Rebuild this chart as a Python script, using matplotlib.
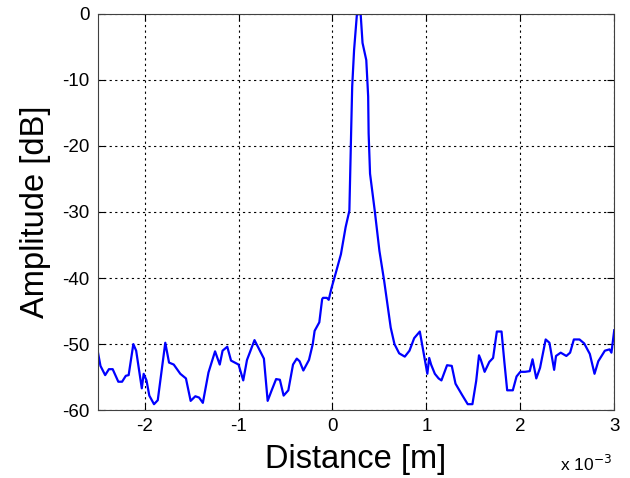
import matplotlib
matplotlib.use("Agg")
import matplotlib.pyplot as plt

# distance in units of 1e-3 m
distance_mm = [
    -2.50, -2.47, -2.42, -2.38, -2.34, -2.28, -2.24, -2.20, -2.17, -2.12,
    -2.09, -2.03, -2.01, -1.98, -1.95, -1.90, -1.86, -1.83, -1.78, -1.74,
    -1.69, -1.62, -1.56, -1.51, -1.46, -1.42, -1.38, -1.32, -1.25, -1.20,
    -1.17, -1.12, -1.08, -1.00, -0.95, -0.91, -0.83, -0.73, -0.69, -0.65,
    -0.60, -0.56, -0.52, -0.47, -0.42, -0.38, -0.35, -0.31, -0.25, -0.21,
    -0.19, -0.14, -0.11, -0.10, -0.06, -0.04, -0.01, 0.03, 0.09, 0.14,
    0.18, 0.19, 0.20, 0.21, 0.23, 0.26, 0.30, 0.32, 0.36, 0.38,
    0.385, 0.40, 0.45, 0.50, 0.55, 0.58, 0.62, 0.66, 0.71, 0.77,
    0.82, 0.87, 0.93, 0.96, 1.01, 1.03, 1.05, 1.09, 1.13, 1.16,
    1.22, 1.27, 1.31, 1.38, 1.44, 1.49, 1.53, 1.56, 1.58, 1.62,
    1.67, 1.71, 1.75, 1.80, 1.83, 1.86, 1.92, 1.96, 2.00, 2.05,
    2.10, 2.13, 2.17, 2.21, 2.27, 2.31, 2.36, 2.38, 2.43, 2.49,
    2.53, 2.57, 2.63, 2.68, 2.74, 2.79, 2.83, 2.90, 2.95, 2.97,
    3.00,
]
amplitude_db = [
    -51.0, -53.3, -54.7, -53.8, -53.8, -55.7, -55.7, -54.8, -54.7, -50.0,
    -51.0, -56.7, -54.5, -55.5, -57.8, -59.1, -58.5, -55.2, -49.8, -52.8,
    -53.1, -54.5, -55.2, -58.6, -57.9, -58.1, -58.9, -54.3, -51.1, -53.1,
    -51.0, -50.4, -52.5, -53.1, -55.5, -52.4, -49.4, -52.2, -58.6, -57.1,
    -55.3, -55.4, -57.8, -57.0, -53.1, -52.2, -52.6, -54.0, -52.4, -50.0,
    -48.0, -46.7, -43.2, -43.0, -43.0, -43.3, -41.5, -39.5, -36.4, -32.3,
    -29.8, -23.2, -17.1, -11.0, -5.5, -0.1, 0.0, -4.4, -7.0, -12.5,
    -18.1, -24.2, -29.8, -35.9, -40.4, -43.4, -47.5, -50.0, -51.4, -51.9,
    -51.0, -49.1, -48.1, -50.5, -54.5, -52.1, -53.1, -54.5, -55.2, -55.5,
    -53.2, -53.3, -56.0, -57.7, -59.1, -59.1, -55.6, -51.7, -52.4, -54.2,
    -52.7, -52.1, -48.1, -48.1, -52.7, -57.0, -57.0, -54.9, -54.2, -54.2,
    -54.1, -52.3, -55.2, -53.6, -49.3, -49.8, -53.9, -51.8, -51.3, -51.8,
    -51.3, -49.3, -49.3, -49.9, -51.5, -54.5, -52.6, -51.0, -50.8, -51.3,
    -47.9,
]
x_ticks = [-2, -1, 0, 1, 2, 3]
x_tick_labels = ["-2", "-1", "0", "1", "2", "3"]
y_ticks = [-60, -50, -40, -30, -20, -10, 0]
y_tick_labels = ["-60", "-50", "-40", "-30", "-20", "-10", "0"]

plt.rcParams['font.family'] = ['Liberation Sans', 'DejaVu Sans']

fig = plt.figure(figsize=(6.3, 4.78), dpi=100)
ax = fig.add_axes([0.155, 0.142, 0.820, 0.829])

ax.plot(distance_mm, amplitude_db, color=(0, 0, 1), linewidth=1.6)
ax.set_xlim(-2.5, 3)
ax.set_ylim(-60, 0)
ax.set_xticks(x_ticks)
ax.set_xticklabels(x_tick_labels)
ax.set_yticks(y_ticks)
ax.set_yticklabels(y_tick_labels)
ax.tick_params(direction='in', top=True, right=True, labelsize=13.5,
               length=5, width=0.8, pad=6)
ax.grid(True, color='black', linestyle=(0, (2, 3)), linewidth=0.8)
for s in ax.spines.values():
    s.set_color('#404040')
    s.set_linewidth(0.8)

ax.set_xlabel('Distance [m]', fontsize=23.5, labelpad=6)
ax.set_ylabel('Amplitude [dB]', fontsize=23.5, labelpad=8)
fig.text(0.972, 0.008, 'x 10$^{\\mathrm{-3}}$', ha='right', va='bottom', fontsize=12.5)

fig.savefig('out.png', dpi=100)
